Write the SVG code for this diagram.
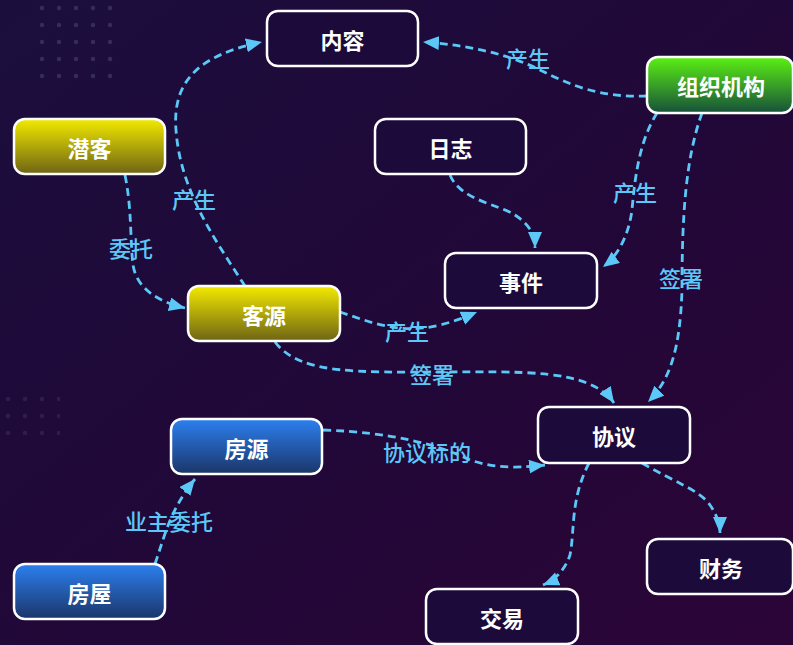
<svg xmlns="http://www.w3.org/2000/svg" width="793" height="645" viewBox="0 0 793 645">
<defs>
<linearGradient id="bg" x1="0" y1="0" x2="1" y2="1">
<stop offset="0" stop-color="#1b0e3d"/>
<stop offset="0.6" stop-color="#220737"/>
<stop offset="1" stop-color="#2c0538"/>
</linearGradient>
<linearGradient id="gy" x1="0" y1="0" x2="0" y2="1">
<stop offset="0" stop-color="#f3ea00"/>
<stop offset="1" stop-color="#6e6414"/>
</linearGradient>
<linearGradient id="gg" x1="0" y1="0" x2="0" y2="1">
<stop offset="0" stop-color="#5bf014"/>
<stop offset="1" stop-color="#17503a"/>
</linearGradient>
<linearGradient id="gb" x1="0" y1="0" x2="0" y2="1">
<stop offset="0" stop-color="#2c80f0"/>
<stop offset="1" stop-color="#1b3568"/>
</linearGradient>
<pattern id="dots" width="17" height="17" patternUnits="userSpaceOnUse">
<circle cx="8" cy="8" r="2.2" fill="#5a6a9a" opacity="0.35"/>
</pattern>
<marker id="arr" markerUnits="userSpaceOnUse" markerWidth="17" markerHeight="15" refX="16" refY="7" orient="auto">
<path d="M0,0 L16,7 L0,14 z" fill="#5cc8f7"/>
</marker>
<style>
.n rect{stroke:#ffffff;stroke-width:2.5}
.n text{fill:#ffffff;font-family:"Noto Sans CJK SC","Noto Sans",sans-serif;font-size:22px;font-weight:700;text-anchor:middle;dominant-baseline:central}
.d{fill:#1c0b3a}
.e path{fill:none;stroke:#5cc8f7;stroke-width:2.8;stroke-dasharray:8 5;marker-end:url(#arr)}
.l{fill:#5cc8f7;font-family:"Noto Sans CJK SC","Noto Sans",sans-serif;font-size:22px;font-weight:500;text-anchor:middle;dominant-baseline:central}
</style>
</defs>
<rect width="793" height="645" fill="url(#bg)"/>
<rect x="28" y="5" width="90" height="75" fill="url(#dots)"/>
<rect x="0" y="395" width="60" height="40" fill="url(#dots)" opacity="0.6"/>

<g id="connectors" class="e">
<path d="M245,286 C215,240 180,190 176,130 C172,80 200,55 262,42"/>
<path d="M125,175 C132,210 130,240 133,265 C137,290 160,302 185,308"/>
<path d="M647,96 C600,98 570,85 540,70 C510,55 470,45 423,42"/>
<path d="M450,175 C460,200 500,205 515,215 C530,225 535,235 535,248"/>
<path d="M657,113 C640,140 635,175 632,210 C628,240 615,258 603,267"/>
<path d="M702,113 C685,160 682,220 682,290 C680,350 670,380 648,402"/>
<path d="M340,312 C370,322 400,335 440,325 C460,320 470,315 477,312"/>
<path d="M275,342 C300,375 360,372 440,372 C520,372 590,368 614,403"/>
<path d="M323,430 C390,432 440,445 470,460 C500,470 525,467 545,465"/>
<path d="M155,564 C165,535 170,510 195,479"/>
<path d="M589,463 C570,500 575,530 570,555 C565,570 555,580 543,585"/>
<path d="M642,463 C670,480 700,490 710,505 C717,515 720,525 720,533"/>
</g>

<g id="labels">
<text class="l" x="194" y="198">产生</text>
<text class="l" x="131" y="247">委托</text>
<text class="l" x="528" y="57">产生</text>
<text class="l" x="635" y="191">产生</text>
<text class="l" x="681" y="277">签署</text>
<text class="l" x="407" y="330">产生</text>
<text class="l" x="432" y="373">签署</text>
<text class="l" x="427" y="451">协议标的</text>
<text class="l" x="169" y="520">业主委托</text>
</g>

<g id="n-neirong" class="n"><rect class="d" x="267" y="11" width="151" height="55" rx="11"/><text x="342.5" y="39">内容</text></g>
<g id="n-qianke" class="n"><rect x="14" y="119" width="151" height="55" rx="11" fill="url(#gy)"/><text x="89.5" y="147">潜客</text></g>
<g id="n-rizhi" class="n"><rect class="d" x="375" y="119" width="151" height="55" rx="11"/><text x="450.5" y="147">日志</text></g>
<g id="n-zuzhi" class="n"><rect x="647" y="57" width="146" height="56" rx="11" fill="url(#gg)"/><text x="721" y="85">组织机构</text></g>
<g id="n-shijian" class="n"><rect class="d" x="445" y="253" width="152" height="55" rx="11"/><text x="521" y="281">事件</text></g>
<g id="n-keyuan" class="n"><rect x="188" y="286" width="152" height="55" rx="11" fill="url(#gy)"/><text x="264" y="314">客源</text></g>
<g id="n-fangyuan" class="n"><rect x="171" y="419" width="151" height="55" rx="11" fill="url(#gb)"/><text x="246.5" y="447">房源</text></g>
<g id="n-xieyi" class="n"><rect class="d" x="538" y="407" width="152" height="56" rx="11"/><text x="614" y="435">协议</text></g>
<g id="n-fangwu" class="n"><rect x="14" y="564" width="151" height="55" rx="11" fill="url(#gb)"/><text x="89.5" y="592">房屋</text></g>
<g id="n-caiwu" class="n"><rect class="d" x="647" y="539" width="146" height="55" rx="11"/><text x="721" y="567">财务</text></g>
<g id="n-jiaoyi" class="n"><rect class="d" x="426" y="589" width="152" height="55" rx="11"/><text x="502" y="617">交易</text></g>
</svg>
